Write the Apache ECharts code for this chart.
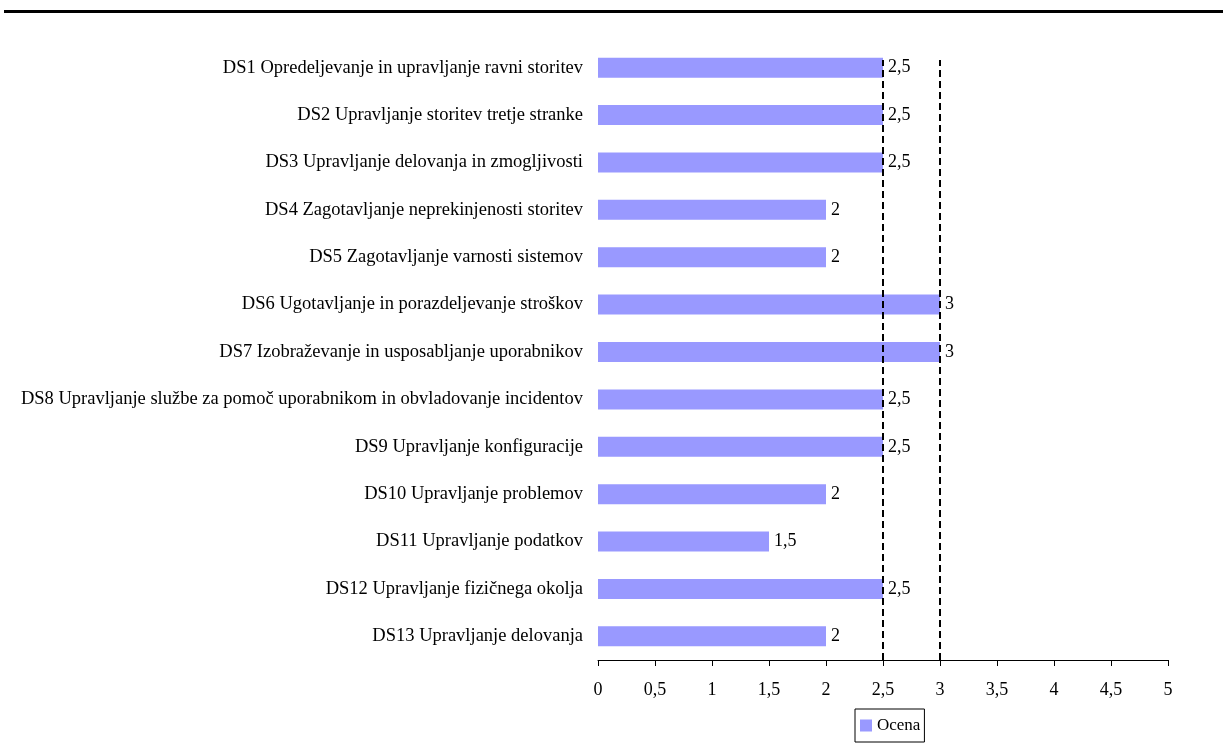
<!DOCTYPE html>
<html>
<head>
<meta charset="utf-8">
<script src="https://cdn.jsdelivr.net/npm/echarts@6/dist/echarts.min.js"></script>
<style>html,body{margin:0;padding:0;background:#fff}#c{width:1223px;height:749px}</style>
</head>
<body>
<div id="c"></div>
<script>
var categories = [
  "DS1 Opredeljevanje in upravljanje ravni storitev",
  "DS2 Upravljanje storitev tretje stranke",
  "DS3 Upravljanje delovanja in zmogljivosti",
  "DS4 Zagotavljanje neprekinjenosti storitev",
  "DS5 Zagotavljanje varnosti sistemov",
  "DS6 Ugotavljanje in porazdeljevanje stroškov",
  "DS7 Izobraževanje in usposabljanje uporabnikov",
  "DS8 Upravljanje službe za pomoč uporabnikom in obvladovanje incidentov",
  "DS9 Upravljanje konfiguracije",
  "DS10 Upravljanje problemov",
  "DS11 Upravljanje podatkov",
  "DS12 Upravljanje fizičnega okolja",
  "DS13 Upravljanje delovanja"
];
var ocena = [2.5, 2.5, 2.5, 2, 2, 3, 3, 2.5, 2.5, 2, 1.5, 2.5, 2];
var thresholds = [2.5, 3];
var thresholdSpan = [0, 0.974];
var seriesName = "Ocena";

var FONT = "'Liberation Serif', 'DejaVu Serif', serif";
var FS = 18;
function fmt(v){ return String(v).replace('.', ','); }

var lineSeries = thresholds.map(function(t){
  return {
    type: 'line', xAxisIndex: 0, yAxisIndex: 1, silent: true,
    symbol: 'none', animation: false,
    lineStyle: {color: '#000', type: [7, 4], width: 2},
    data: thresholdSpan.map(function(s){ return [t, s]; }),
    z: 3
  };
});

var chart = echarts.init(document.getElementById('c'), null, {renderer:'canvas'});
chart.setOption({
  animation: false,
  backgroundColor: '#fff',
  textStyle: {fontFamily: FONT, color: '#000'},
  graphic: [{
    type: 'rect', left: 4, top: 10, shape: {width: 1219, height: 3},
    style: {fill: '#000'}
  }],
  grid: {left: 598, right: 55, top: 44, bottom: 89, containLabel: false},
  legend: {
    top: 709, left: 855,
    itemWidth: 12, itemHeight: 12, itemGap: 3,
    icon: 'rect',
    textStyle: {fontFamily: FONT, fontSize: 17, color: '#000'},
    borderColor: '#000', borderWidth: 1, padding: [8, 4, 8, 5],
    data: [seriesName]
  },
  xAxis: {
    type: 'value', min: 0, max: 5, interval: 0.5,
    axisLine: {show: true, lineStyle: {color: '#000', width: 1}},
    axisTick: {show: true, length: 6, lineStyle: {color: '#000'}},
    splitLine: {show: false},
    axisLabel: {fontFamily: FONT, fontSize: FS, color: '#000', margin: 21, formatter: fmt}
  },
  yAxis: [{
    type: 'category', inverse: true, data: categories,
    axisLine: {show: false}, axisTick: {show: false},
    axisLabel: {fontFamily: FONT, fontSize: 18.5, color: '#000', margin: 15}
  }, {
    type: 'value', min: 0, max: 1, show: false,
    axisLine: {show: false}, axisTick: {show: false}, axisLabel: {show: false}, splitLine: {show: false}
  }],
  series: [{
    name: seriesName, type: 'bar', data: ocena, barWidth: 20,
    itemStyle: {color: '#9999FF'},
    label: {show: true, position: 'right', distance: 5, fontFamily: FONT, fontSize: FS, color: '#000',
            formatter: function(p){ return fmt(p.value); }}
  }].concat(lineSeries)
});
</script>
</body>
</html>
